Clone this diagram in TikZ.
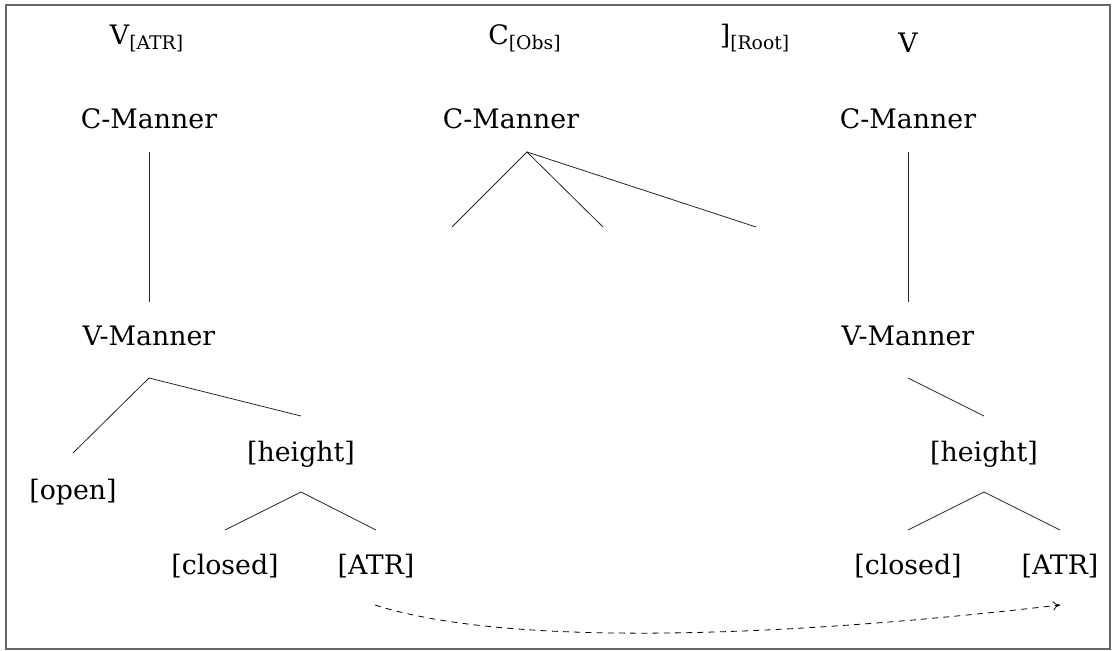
\documentclass[tikz,border=0pt]{standalone}
\usepackage{amsmath}
\usepackage{fontspec}
\setmainfont{DejaVu Serif}
\usetikzlibrary{arrows.meta}
\begin{document}
\begin{tikzpicture}[x=0.5pt,y=-0.5pt,
  lbl/.style={anchor=base,inner sep=0pt,font=\fontsize{13.4}{16}\selectfont},
  branch/.style={line width=0.4pt,black!85},
  frame/.style={draw=black!60,line width=0.9pt},
  move/.style={line width=0.4pt,dash pattern=on 3pt off 2.6pt,-{To[length=3.5pt,width=4.5pt]}}]
\useasboundingbox (0,0) rectangle (1116,651);
\draw[frame] (6,5) rectangle (1110,649);
% top row
\node[lbl] (vatr) at (147,45) {V$_{\text{[ATR]}}$};
\node[lbl] (cobs) at (525,45) {C$_{\text{[Obs]}}$};
\node[lbl] (root) at (755,45) {]$_{\text{[Root]}}$};
\node[lbl] (v) at (908,53) {V};
% left tree
\node[lbl] (cm1) at (149,129) {C-Manner};
\node[lbl] (vm1) at (149,346) {V-Manner};
\node[lbl] (open) at (73,500) {[open]};
\node[lbl] (ht1) at (301,462) {[height]};
\node[lbl] (cl1) at (225,575) {[closed]};
\node[lbl] (atr1) at (376,575) {[ATR]};
\coordinate (a1) at (149,152); \coordinate (b1) at (149,302);
\draw[branch] (a1) -- (b1);
\coordinate (p1) at (149,378); \coordinate (p1l) at (73,453); \coordinate (p1r) at (301,416);
\draw[branch] (p1l) -- (p1) -- (p1r);
\coordinate (h1) at (301,492); \coordinate (h1l) at (225,530); \coordinate (h1r) at (376,530);
\draw[branch] (h1l) -- (h1) -- (h1r);
% middle tree
\node[lbl] (cm2) at (511,129) {C-Manner};
\coordinate (m) at (527,152);
\coordinate (ml) at (452,227); \coordinate (mm) at (603,227); \coordinate (mr) at (756,227);
\draw[branch] (ml) -- (m) -- (mm);
\draw[branch] (m) -- (mr);
% right tree
\node[lbl] (cm3) at (908,129) {C-Manner};
\node[lbl] (vm3) at (908,346) {V-Manner};
\node[lbl] (ht3) at (984,462) {[height]};
\node[lbl] (cl3) at (908,575) {[closed]};
\node[lbl] (atr3) at (1060,575) {[ATR]};
\coordinate (a3) at (908,152); \coordinate (b3) at (908,302);
\draw[branch] (a3) -- (b3);
\coordinate (p3) at (908,378); \coordinate (p3r) at (984,416);
\draw[branch] (p3) -- (p3r);
\coordinate (h3) at (984,492); \coordinate (h3l) at (908,530); \coordinate (h3r) at (1060,530);
\draw[branch] (h3l) -- (h3) -- (h3r);
% spreading arrow
\coordinate (s) at (375,605); \coordinate (e) at (1060,605);
\draw[move] (s) .. controls (500,645) and (760,640) .. (e);
\end{tikzpicture}
\end{document}
